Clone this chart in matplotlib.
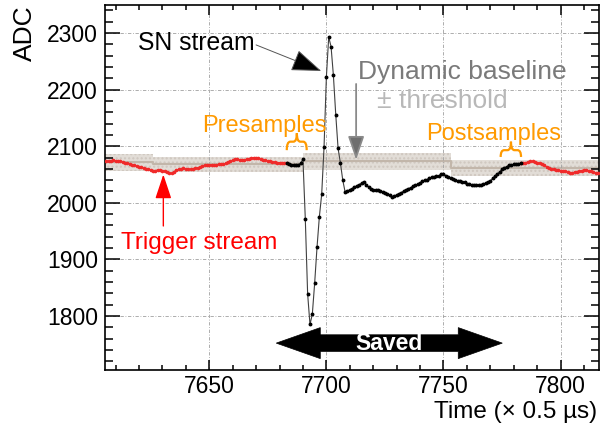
import numpy as np
import matplotlib
matplotlib.use('Agg')
import matplotlib.pyplot as plt
from matplotlib.path import Path
from matplotlib.patches import PathPatch, Polygon
from matplotlib.ticker import MultipleLocator

plt.rcParams['font.family'] = ['Liberation Sans', 'DejaVu Sans']

# ---------------- data ----------------
trig_pre_start = 7606
trig_pre = [2073, 2074, 2074, 2075, 2074, 2074, 2074, 2072, 2071, 2070,
            2069, 2067, 2067, 2065, 2064, 2063, 2061, 2059, 2059, 2058,
            2057, 2057, 2058, 2058, 2057, 2056, 2055, 2053, 2052, 2055,
            2058, 2059, 2060, 2061, 2060, 2059, 2059, 2060, 2061, 2062,
            2063, 2065, 2066, 2067, 2067, 2067, 2066, 2067, 2068, 2068,
            2068, 2070, 2072, 2074, 2075, 2077, 2077, 2076, 2076, 2076,
            2077, 2078, 2079, 2080, 2080, 2079, 2077, 2076, 2075, 2074,
            2073, 2072, 2072, 2071, 2071, 2071, 2070, 2070]
pre_start = 7683
presamples = [2070, 2068, 2067, 2067, 2067, 2067, 2070]
sn_start = 7690
sn_stream = [2077, 1972, 1839, 1785, 1803, 1858, 1921, 1975, 2015, 2098,
             2222, 2293, 2276, 2225, 2156, 2096, 2070, 2040, 2019,
             2021, 2023, 2025, 2028, 2030, 2032, 2035, 2037, 2032, 2028,
             2025, 2023, 2022, 2022, 2021, 2019, 2017, 2016, 2013, 2010,
             2012, 2014, 2016, 2018, 2021, 2023, 2025, 2027, 2029, 2031,
             2033, 2035, 2038, 2040, 2041, 2043, 2045, 2046, 2047, 2048,
             2050, 2051, 2048, 2045, 2043, 2042, 2040, 2039, 2038, 2037,
             2036, 2034, 2033, 2032, 2031, 2031, 2031, 2032, 2033, 2035,
             2037, 2039, 2043, 2047, 2051, 2055, 2059, 2062, 2064, 2066,
             2067, 2068, 2069, 2069, 2070]
trig_post_start = 7783
trig_post = [2070, 2071, 2071, 2072, 2073, 2073, 2072, 2071, 2070, 2068,
             2066, 2064, 2062, 2060, 2059, 2058, 2058, 2057, 2057, 2056,
             2054, 2053, 2053, 2054, 2055, 2056, 2057, 2058, 2058, 2057,
             2056, 2054, 2053, 2052]

band_edges = [7605.5, 7626, 7690, 7753, 7816.5]
baseline = [2072, 2068, 2073, 2061]
threshold = [15, 13, 15, 14]

x_ticks = [7650, 7700, 7750, 7800]
y_ticks = [1800, 1900, 2000, 2100, 2200, 2300]

# ---------------- figure ----------------
fig = plt.figure(figsize=(6, 4.32), dpi=100)
ax = fig.add_axes([0.175, 0.1442, 0.8238, 0.8435])
ax.set_xlim(7605.5, 7816.5)
ax.set_ylim(1705, 2349)

# band
lo = [b - t for b, t in zip(baseline, threshold)]
hi = [b + t for b, t in zip(baseline, threshold)]
ax.fill_between(band_edges, lo + [lo[-1]], hi + [hi[-1]], step='post',
                facecolor='#e2ddd7', edgecolor='#cfc7bf', hatch='....',
                linewidth=0, zorder=0.4)
ax.step(band_edges, baseline + [baseline[-1]], where='post',
        color='#c2b6aa', lw=1.5, zorder=0.45)

# waveforms
t1 = np.arange(trig_pre_start, trig_pre_start + len(trig_pre))
t2 = np.arange(pre_start, pre_start + len(presamples))
t3 = np.arange(sn_start, sn_start + len(sn_stream))
t4 = np.arange(trig_post_start, trig_post_start + len(trig_post))

red = '#f02a2a'
ax.plot(t1, trig_pre, color=red, lw=0.8, marker='o', ms=1.6, mec=red, mfc=red, zorder=3)
ax.plot(t4, trig_post, color=red, lw=0.8, marker='o', ms=1.6, mec=red, mfc=red, zorder=3)
ax.plot(np.concatenate([t2, t3]), presamples + sn_stream, color='#404040', lw=0.8,
        marker='o', ms=1.8, mec='black', mfc='black', zorder=3)

# grid / ticks
ax.set_xticks(x_ticks)
ax.set_yticks(y_ticks)
ax.xaxis.set_minor_locator(MultipleLocator(10))
ax.yaxis.set_minor_locator(MultipleLocator(20))
ax.grid(True, which='major', color='#a0a0a0', lw=0.6, ls=(0, (4, 2, 1, 2)))
ax.set_axisbelow(True)
ax.tick_params(which='both', direction='in', top=True, right=True, width=1.1,
               labelsize=16.5)
ax.tick_params(axis='y', which='major', length=11, pad=5)
ax.tick_params(axis='y', which='minor', length=6)
ax.tick_params(axis='x', which='major', length=7.5, pad=4)
ax.tick_params(axis='x', which='minor', length=3.8)
for s in ax.spines.values():
    s.set_linewidth(1.2)

ax.set_ylabel('ADC', fontsize=19, loc='top')
ax.yaxis.set_label_coords(-0.137, 1.0)
ax.set_xlabel('Time (× 0.5 µs)', fontsize=17.5, loc='right')
ax.xaxis.set_label_coords(0.996, -0.085)

# annotations
orange = '#ff9a00'
ax.text(7644.5, 2282, 'SN stream', fontsize=17.8, color='black', ha='center', va='center')
ax.text(7757.9, 2231, 'Dynamic baseline', fontsize=19, color='#7a7a7a', ha='center', va='center')
ax.text(7749.4, 2180, '± threshold', fontsize=19, color='#b8b8b8', ha='center', va='center')
ax.text(7673.5, 2136, 'Presamples', fontsize=17, color=orange, ha='center', va='center')
ax.text(7771.3, 2121, 'Postsamples', fontsize=17, color=orange, ha='center', va='center')
ax.text(7645.7, 1929, 'Trigger stream', fontsize=17.5, color='#ff0000', ha='center', va='center')

ax.annotate('', xy=(7697.8, 2233), xytext=(7670.0, 2279),
            arrowprops=dict(arrowstyle='-|>,head_length=1.9,head_width=0.7',
                            mutation_scale=10, fc='black', ec='#555555', lw=0.7,
                            shrinkA=0, shrinkB=0), zorder=4)
ax.annotate('', xy=(7712.7, 2076), xytext=(7712.7, 2210),
            arrowprops=dict(arrowstyle='-|>,head_length=1.45,head_width=0.5',
                            mutation_scale=10, fc='#6e6e6e', ec='#8a8a8a', lw=1.3,
                            shrinkA=0, shrinkB=0), zorder=4)
ax.annotate('', xy=(7630.4, 2050), xytext=(7630.4, 1959),
            arrowprops=dict(arrowstyle='-|>,head_length=1.5,head_width=0.5',
                            mutation_scale=10, fc='#ff0000', ec='#ff0000', lw=1.0,
                            shrinkA=0, shrinkB=0), zorder=4)


def brace(x0, x1, xc, yb, yh, yp, r):
    verts = [(x0, yb), (x0, yh), (x0 + r, yh), (xc - r, yh), (xc, yh), (xc, yp),
             (xc, yh), (xc + r, yh), (x1 - r, yh), (x1, yh), (x1, yb)]
    codes = [Path.MOVETO, Path.CURVE3, Path.CURVE3, Path.LINETO, Path.CURVE3, Path.CURVE3,
             Path.CURVE3, Path.CURVE3, Path.LINETO, Path.CURVE3, Path.CURVE3]
    ax.add_patch(PathPatch(Path(verts, codes), fill=False, ec=orange, lw=1.6, zorder=4))


brace(7683.1, 7691.6, 7687.4, 2093, 2108, 2123, 1.5)
brace(7774.4, 7783.1, 7778.8, 2081, 2093, 2108, 1.5)

# Saved double arrow
L, R, yc = 7678.6, 7775.1, 1752
hl, hhw, bhw = 18.8, 27.4, 14.7
ax.add_patch(Polygon([(L, yc), (L + hl, yc + hhw), (L + hl, yc + bhw), (R - hl, yc + bhw),
                      (R - hl, yc + hhw), (R, yc), (R - hl, yc - hhw), (R - hl, yc - bhw),
                      (L + hl, yc - bhw), (L + hl, yc - hhw)],
                     closed=True, fc='black', ec='black', lw=0.5, zorder=5))
ax.text((L + R) / 2, yc, 'Saved', fontsize=16.5, fontweight='bold', color='white',
        ha='center', va='center', zorder=6)

fig.savefig('out.png', dpi=100)
